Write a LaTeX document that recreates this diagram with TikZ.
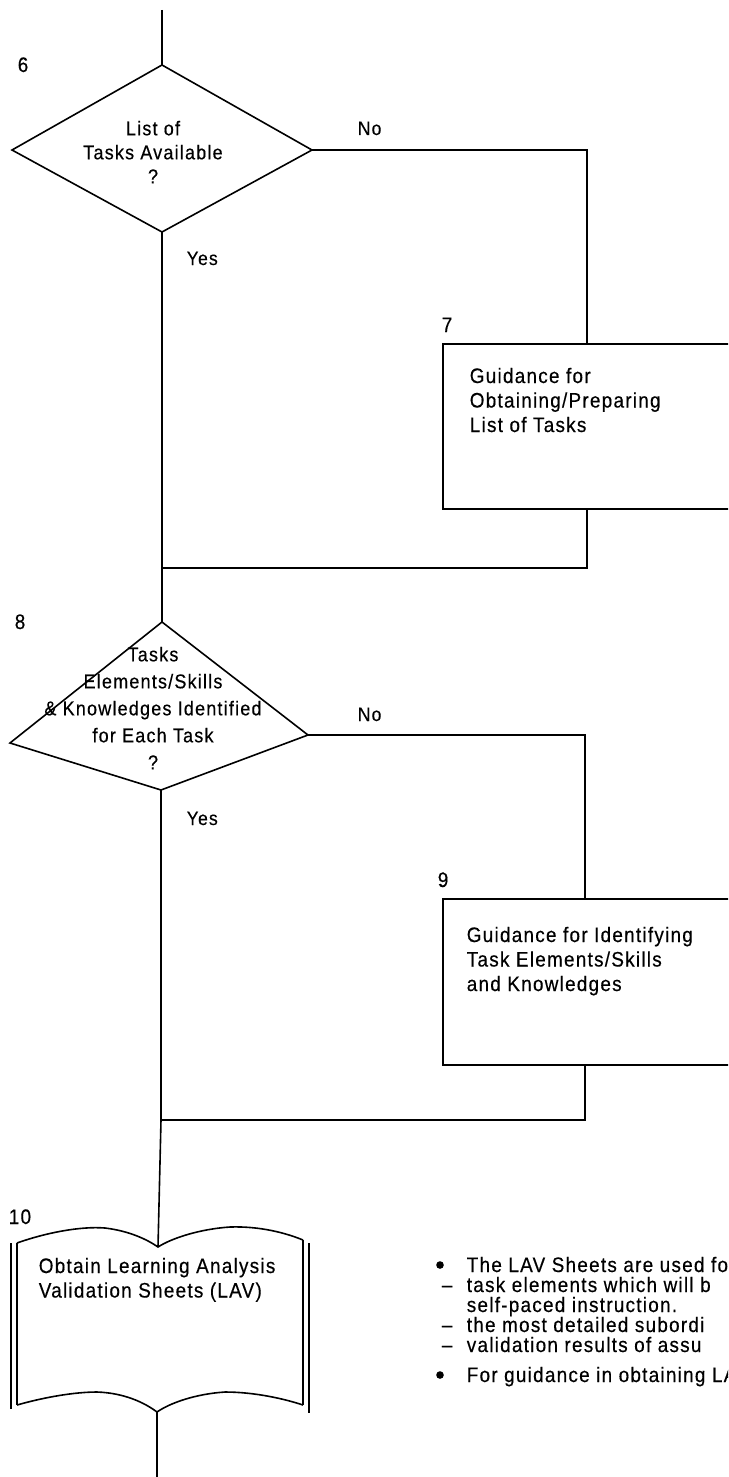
\documentclass[tikz,border=0pt]{standalone}
\usepackage{fontspec}
\setmainfont{Liberation Sans}[LetterSpace=6,FakeStretch=0.9,FakeBold=0.4]
\begin{document}
\begin{tikzpicture}[x=1pt,y=-1pt,line width=1.6pt,line join=miter,
  num/.style={font=\fontsize{21}{24}\selectfont,inner sep=0pt,anchor=base west},
  yn/.style={font=\fontsize{19.5}{22}\selectfont,inner sep=0pt,anchor=base west},
  dtext/.style={font=\fontsize{20}{24}\selectfont,inner sep=0pt,align=center,anchor=north},
  btext/.style={font=\fontsize{21}{24.5}\selectfont,inner sep=0pt,align=left,anchor=north west},
  note/.style={font=\fontsize{21}{20}\selectfont,inner sep=0pt,anchor=base west},
  procbox/.style={draw,rectangle,inner sep=0pt,anchor=north west,minimum width=330pt}]
\useasboundingbox (0,0) rectangle (728,1477);
\clip (0,0) rectangle (728,1477);

% ---- coordinates
\coordinate (top) at (162,10);
\coordinate (d6t) at (162,65);
\coordinate (d6l) at (12,150);
\coordinate (d6r) at (312,150);
\coordinate (d6b) at (162,232);
\coordinate (d8t) at (162,622);
\coordinate (d8l) at (10,743);
\coordinate (d8r) at (308,735);
\coordinate (d8b) at (161,790);
\coordinate (j1) at (162,568);
\coordinate (j2) at (161,1120);
\coordinate (bkt) at (158,1247);
\coordinate (bkb) at (157,1412);
\coordinate (bot) at (157,1477);

% ---- decision 6
\draw (d6t) -- (d6r) -- (d6b) -- (d6l) -- cycle;
\node[dtext] (q6) at (153,120) {List of\\Tasks Available\\?};
\node[num] (n6) at (17,72) {6};
\node[yn] (no6) at (357,135) {No};
\node[yn] (yes6) at (186,265) {Yes};

% ---- box 7
\node[procbox,minimum height=165pt] (b7) at (442,343) {};
\coordinate (b7t) at (587,343);
\coordinate (b7b) at (587,508);
\node[btext] (t7) at (469,367) {Guidance for\\Obtaining/Preparing\\List of Tasks};
\node[num] (n7) at (441,332) {7};

% ---- decision 8
\draw (d8t) -- (d8r) -- (d8b) -- (d8l) -- cycle;
\node[dtext,font=\fontsize{20}{27}\selectfont] (q8) at (153,646) {Tasks\\Elements/Skills\\\& Knowledges Identified\\for Each Task\\?};
\node[num] (n8) at (14,629) {8};
\node[yn] (no8) at (357,721) {No};
\node[yn] (yes8) at (186,825) {Yes};

% ---- box 9
\node[procbox,minimum height=166pt] (b9) at (442,898) {};
\coordinate (b9t) at (585,898);
\coordinate (b9b) at (585,1064);
\node[btext] (t9) at (466,926) {Guidance for Identifying\\Task Elements/Skills\\and Knowledges};
\node[num] (n9) at (437,887) {9};

% ---- book 10
\draw (17,1243) .. controls (45,1233) and (80,1226) .. (105,1228)
      .. controls (130,1231) and (148,1240) .. (bkt)
      .. controls (172,1238) and (200,1229) .. (230,1227)
      .. controls (260,1226) and (286,1233) .. (303,1240);
\draw (17,1405) .. controls (45,1397) and (75,1392) .. (97,1392)
      .. controls (125,1393) and (145,1403) .. (bkb)
      .. controls (170,1403) and (195,1394) .. (225,1392)
      .. controls (255,1392) and (285,1399) .. (303,1405);
\draw (17,1243) -- (17,1405);
\draw (303,1240) -- (303,1405);
\draw (11,1243) -- (11,1409);
\draw (309,1243) -- (309,1413);
\node[btext] (t10) at (38,1257) {Obtain Learning Analysis\\Validation Sheets (LAV)};
\node[num] (n10) at (8,1224) {10};

% ---- connectors
\draw (top) -- (d6t);
\draw (d6b) -- (j1) -- (d8t);
\draw (d6r) -| (b7t);
\draw (b7b) |- (j1);
\draw (d8r) -| (b9t);
\draw (b9b) |- (j2);
\draw (d8b) -- (j2) -- (bkt);
\draw (bkb) -- (bot);

% ---- notes
\fill (440,1265) circle (3.8);
\node[note] (l1) at (466,1272) {The LAV Sheets are used fo};
\node[note] (d1) at (441,1292) {–};
\node[note] (l2) at (466,1292) {task elements which will b};
\node[note] (l3) at (466,1312) {self-paced instruction.};
\node[note] (d2) at (441,1332) {–};
\node[note] (l4) at (466,1332) {the most detailed subordi};
\node[note] (d3) at (441,1352) {–};
\node[note] (l5) at (466,1352) {validation results of assu};
\fill (440,1375) circle (3.8);
\node[note] (l6) at (466,1382) {For guidance in obtaining LA};
\end{tikzpicture}
\end{document}
